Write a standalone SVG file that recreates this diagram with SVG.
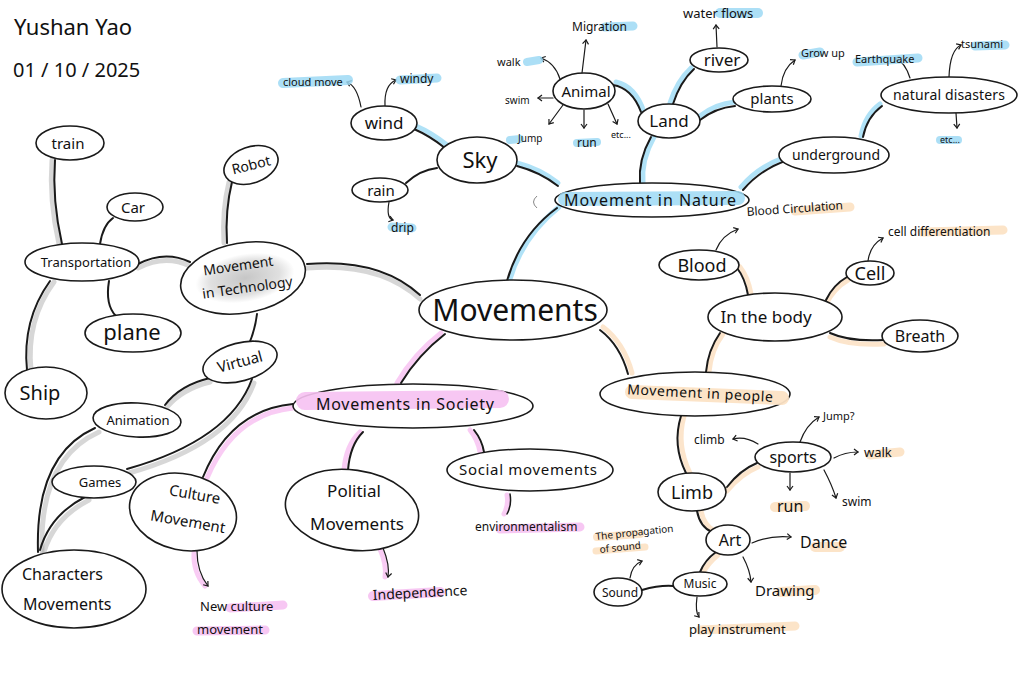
<svg xmlns="http://www.w3.org/2000/svg" width="1024" height="683" viewBox="0 0 1024 683">
<style>
.n{fill:#fff;stroke:#1a1a1a;stroke-width:1.6}
.t{font-family:"Noto Sans","Liberation Sans",sans-serif;fill:#111;text-anchor:middle}
.s{font-family:"Noto Sans","Liberation Sans",sans-serif;fill:#111}
.k{fill:none;stroke:#1a1a1a;stroke-width:2;stroke-linecap:round}
.a{fill:none;stroke:#1a1a1a;stroke-width:1.2;stroke-linecap:round;marker-end:url(#ah)}
.hb{fill:none;stroke:#8fd6f4;stroke-width:5;stroke-linecap:round;opacity:.7}
.ho{fill:none;stroke:#fbe1c3;stroke-width:5;stroke-linecap:round;opacity:.85}
.hp{fill:none;stroke:#f6b6f0;stroke-width:5;stroke-linecap:round;opacity:.7}
.hg{fill:none;stroke:#9a9a9a;stroke-width:5;stroke-linecap:round;opacity:.4}
.mb{stroke:#9edaf5;stroke-linecap:round;opacity:.85}
.mo{stroke:#fce3c6;stroke-linecap:round;opacity:.95}
.mp{stroke:#f7c2f2;stroke-linecap:round;opacity:.9}
</style>
<defs>
<marker id="ah" markerWidth="8" markerHeight="8" refX="0" refY="0" viewBox="-6 -4 8 8" orient="auto" markerUnits="userSpaceOnUse">
<path d="M-4,-3 L0,0 L-4,3" fill="none" stroke="#1a1a1a" stroke-width="1.2"/>
</marker>
<radialGradient id="gt" cx="0.5" cy="0.5" r="0.5">
<stop offset="0" stop-color="#b8b8b8"/>
<stop offset="0.7" stop-color="#d8d8d8"/>
<stop offset="1" stop-color="#ffffff"/>
</radialGradient>
</defs>

<g id="title">
<text class="s" x="14" y="35" font-size="22">Yushan Yao</text>
<text class="s" x="13" y="77" font-size="20">01 / 10 / 2025</text>
</g>

<g id="connectors">
<path class="hb" d="M510,279 Q523,236 559,207"/>
<path class="hb" d="M558,183 Q540,169 517,163"/>
<path class="hb" d="M643,183 Q641,160 654,137"/>
<path class="hb" d="M741,187 Q758,167 783,158"/>
<path class="hb" d="M447,145 Q432,133 416,126"/>
<path class="hb" d="M644,112 Q635,86 616,82"/>
<path class="hb" d="M670,103 Q677,81 691,68"/>
<path class="hb" d="M700,116 Q715,104 735,102"/>
<path class="hb" d="M861,136 Q865,115 880,104"/>
<path class="ho" d="M603,327 Q624,343 632,373"/>
<path class="ho" d="M709,372 Q711,350 723,334"/>
<path class="ho" d="M684,416 Q676,445 690,473"/>
<path class="ho" d="M740,267 Q748,277 751,294"/>
<path class="ho" d="M826,304 Q834,288 848,280"/>
<path class="ho" d="M830,337 Q850,346 884,344"/>
<path class="ho" d="M727,491 Q741,474 758,467"/>
<path class="ho" d="M701,511 Q704,526 715,531"/>
<path class="ho" d="M718,555 Q708,563 703,573"/>
<path class="hp" d="M441,333 Q414,354 397,383"/>
<path class="hp" d="M293,408 Q234,414 207,478"/>
<path class="hp" d="M360,432 Q346,445 344,470"/>
<path class="hp" d="M470,430 Q478,440 480,452"/>
<path class="hp" d="M194,553 Q193,572 205,586"/>
<path class="hp" d="M380,549 Q387,565 385,577"/>
<path class="hp" d="M507,495 Q509,505 504,514"/>
<path class="hg" d="M420,299 Q380,262 307,268"/>
<path class="hg" d="M190,266 Q165,254 138,268"/>
<path class="hg" d="M224,243 Q222,210 229,182"/>
<path class="hg" d="M59,244 Q49,200 52,160"/>
<path class="hg" d="M54,282 Q26,320 31,370"/>
<path class="hg" d="M210,382 Q182,389 167,407"/>
<path class="hg" d="M254,383 Q232,444 129,473"/>
<path class="hg" d="M89,500 Q54,518 44,552"/>
<path class="hg" d="M99,432 Q39,459 42,552"/>
<path class="k" d="M507,281 Q520,235 557,208"/>
<path class="k" d="M558,186 Q540,172 517,166"/>
<path class="k" d="M640,183 Q638,160 651,137"/>
<path class="k" d="M743,190 Q760,170 785,161"/>
<path class="k" d="M445,148 Q430,136 414,129"/>
<path class="k" d="M437,168 Q420,170 406,183"/>
<path class="k" d="M641,112 Q632,88 613,85"/>
<path class="k" d="M673,104 Q680,82 694,69"/>
<path class="k" d="M700,120 Q715,108 735,106"/>
<path class="k" d="M863,137 Q867,117 882,106"/>
<path class="k" d="M600,330 Q620,345 628,374"/>
<path class="k" d="M706,372 Q708,350 720,333"/>
<path class="k" d="M681,416 Q672,445 686,473"/>
<path class="k" d="M737,268 Q745,278 748,295"/>
<path class="k" d="M826,300 Q833,285 847,277"/>
<path class="k" d="M830,333 Q850,342 884,340"/>
<path class="k" d="M727,487 Q740,470 757,463"/>
<path class="k" d="M697,511 Q700,527 712,532"/>
<path class="k" d="M716,552 Q705,560 700,572"/>
<path class="k" d="M673,586 Q660,585 642,590"/>
<path class="k" d="M445,334 Q418,355 401,383"/>
<path class="k" d="M293,404 Q230,410 203,477"/>
<path class="k" d="M363,432 Q350,445 348,470"/>
<path class="k" d="M474,430 Q482,440 484,452"/>
<path class="k" d="M420,295 Q380,258 307,264"/>
<path class="k" d="M190,262 Q165,250 138,264"/>
<path class="k" d="M227,243 Q225,210 232,182"/>
<path class="k" d="M257,314 Q255,330 249,344"/>
<path class="k" d="M62,244 Q52,200 55,160"/>
<path class="k" d="M100,244 Q103,225 113,218"/>
<path class="k" d="M109,281 Q105,305 116,316"/>
<path class="k" d="M50,281 Q22,320 27,370"/>
<path class="k" d="M210,378 Q180,385 165,405"/>
<path class="k" d="M252,379 Q230,440 127,469"/>
<path class="k" d="M85,497 Q50,515 40,550"/>
<path class="k" d="M95,428 Q35,455 38,552"/>
<path class="a" d="M361,107 Q357,86 347,82"/>
<path class="a" d="M385,106 Q384,85 396,80"/>
<path class="a" d="M389,202 Q386,218 393,220"/>
<path class="a" d="M582,73 L586,40"/>
<path class="a" d="M560,79 Q555,63 541,58"/>
<path class="a" d="M553,98 L538,98"/>
<path class="a" d="M563,105 L549,124"/>
<path class="a" d="M584,110 L584,128"/>
<path class="a" d="M608,104 L617,124"/>
<path class="a" d="M717,47 L716,25"/>
<path class="a" d="M781,86 Q783,68 795,60"/>
<path class="a" d="M910,78 Q905,62 895,58"/>
<path class="a" d="M949,77 Q950,50 961,45"/>
<path class="a" d="M956,113 L957,128"/>
<path class="a" d="M716,250 Q722,235 738,229"/>
<path class="a" d="M868,261 Q870,245 883,238"/>
<path class="a" d="M758,444 Q745,436 733,439"/>
<path class="a" d="M800,442 Q806,425 819,417"/>
<path class="a" d="M834,458 Q845,452 858,452"/>
<path class="a" d="M790,473 L790,490"/>
<path class="a" d="M824,470 Q832,485 836,498"/>
<path class="a" d="M752,543 Q770,535 791,537"/>
<path class="a" d="M743,557 Q750,570 751,582"/>
<path class="a" d="M697,597 Q695,612 699,617"/>
<path class="a" d="M630,578 Q632,565 642,561"/>
<path class="a" d="M197,551 Q197,572 208,586"/>
<path class="a" d="M383,548 Q390,565 388,577"/>
<path class="k" style="stroke-width:1.5" d="M510,494 Q512,505 507,514"/>
</g>

<g id="labels-highlights">
<path class="mb" stroke-width="10" d="M283,83 L348,80"/>
<path class="mb" stroke-width="9" d="M400,80 L437,78"/>
<path class="mb" stroke-width="9" d="M392,227 L412,228"/>
<path class="mb" stroke-width="9" d="M605,27 L633,26"/>
<path class="mb" stroke-width="8" d="M527,62 L539,60"/>
<path class="mb" stroke-width="8" d="M577,143 L597,142"/>
<path class="mb" stroke-width="8" d="M510,140 L520,139"/>
<path class="mb" stroke-width="10" d="M720,13 L758,13"/>
<path class="mb" stroke-width="9" d="M803,55 L820,52"/>
<path class="mb" stroke-width="9" d="M857,62 L918,58"/>
<path class="mb" stroke-width="9" d="M975,46 L1005,45"/>
<path class="mb" stroke-width="8" d="M940,140 L958,140"/>
<path class="mo" stroke-width="9" d="M795,211 L850,207"/>
<path class="mo" stroke-width="9" d="M922,232 L1003,230"/>
<path class="mo" stroke-width="9" d="M870,455 L900,452"/>
<path class="mo" stroke-width="10" d="M775,507 L805,506"/>
<path class="mo" stroke-width="10" d="M815,547 L840,547"/>
<path class="mo" stroke-width="10" d="M780,592 L815,590"/>
<path class="mo" stroke-width="9" d="M700,630 L795,626"/>
<path class="mo" stroke-width="8" d="M597,537 L640,534"/>
<path class="mo" stroke-width="7" d="M596,551 L645,547"/>
<path class="mp" stroke-width="9" d="M230,608 L283,605"/>
<path class="mp" stroke-width="9" d="M197,631 L265,630"/>
<path class="mp" stroke-width="10" d="M373,596 L440,592"/>
<path class="mp" stroke-width="9" d="M500,529 L580,527"/>
</g>

<g id="n-movements"><ellipse class="n" cx="513" cy="310" rx="94" ry="30"/><text class="t" x="515" y="321" font-size="30">Movements</text></g>

<g id="n-nature"><ellipse class="n" cx="652" cy="200" rx="97" ry="17"/><path class="mb" stroke-width="14" d="M565,199 L738,198"/><path d="M537,196 Q530,202 537,208" fill="none" stroke="#888" stroke-width="1"/><text class="t" x="650" y="206" font-size="16" textLength="172" lengthAdjust="spacing">Movement in Nature</text></g>
<g id="n-sky"><ellipse class="n" cx="477" cy="160" rx="40" ry="23"/><text class="t" x="480" y="168" font-size="22">Sky</text></g>
<g id="n-wind"><ellipse class="n" cx="384" cy="123" rx="33" ry="17"/><text class="t" x="384" y="129" font-size="17">wind</text></g>
<g id="n-rain"><ellipse class="n" cx="380" cy="190" rx="28" ry="12"/><text class="t" x="381" y="196" font-size="15">rain</text></g>
<g id="n-animal"><ellipse class="n" cx="584" cy="91" rx="31" ry="18"/><text class="t" x="586" y="97" font-size="15">Animal</text></g>
<g id="n-land"><ellipse class="n" cx="669" cy="121" rx="31" ry="17"/><text class="t" x="669" y="127" font-size="17">Land</text></g>
<g id="n-river"><ellipse class="n" cx="719" cy="60" rx="29" ry="12"/><text class="t" x="722" y="66" font-size="17">river</text></g>
<g id="n-plants"><ellipse class="n" cx="772" cy="99" rx="39" ry="13"/><text class="t" x="772" y="104" font-size="15">plants</text></g>
<g id="n-natdis"><ellipse class="n" cx="949" cy="95" rx="68" ry="18"/><text class="t" x="949" y="100" font-size="14" textLength="112" lengthAdjust="spacing">natural disasters</text></g>
<g id="n-underground"><ellipse class="n" cx="834" cy="155" rx="55" ry="18"/><text class="t" x="836" y="160" font-size="15" textLength="88" lengthAdjust="spacingAndGlyphs">underground</text></g>

<g id="n-people"><ellipse class="n" cx="695" cy="394" rx="95" ry="22"/><path class="mo" stroke-width="14" d="M632,392 L782,398"/><text class="t" x="700" y="398" font-size="14" textLength="146" lengthAdjust="spacing" transform="rotate(3 700 394)">Movement in people</text></g>
<g id="n-body"><ellipse class="n" cx="775" cy="317" rx="67" ry="24"/><text class="t" x="766" y="323" font-size="17">In the body</text></g>
<g id="n-blood"><ellipse class="n" cx="699" cy="265" rx="40" ry="15"/><text class="t" x="702" y="272" font-size="18">Blood</text></g>
<g id="n-cell"><ellipse class="n" cx="870" cy="273" rx="24" ry="12"/><text class="t" x="870" y="280" font-size="18">Cell</text></g>
<g id="n-breath"><ellipse class="n" cx="920" cy="336" rx="38" ry="16"/><text class="t" x="920" y="342" font-size="16">Breath</text></g>
<g id="n-limb"><ellipse class="n" cx="692" cy="492" rx="34" ry="19"/><text class="t" x="692" y="499" font-size="18">Limb</text></g>
<g id="n-sports"><ellipse class="n" cx="793" cy="457" rx="38" ry="15"/><text class="t" x="793" y="463" font-size="16">sports</text></g>
<g id="n-art"><ellipse class="n" cx="728" cy="540" rx="22" ry="15"/><text class="t" x="730" y="546" font-size="16">Art</text></g>
<g id="n-music"><ellipse class="n" cx="700" cy="584" rx="27" ry="12"/><text class="t" x="700" y="588" font-size="12">Music</text></g>
<g id="n-sound"><ellipse class="n" cx="618" cy="592" rx="24" ry="14"/><text class="t" x="620" y="597" font-size="12">Sound</text></g>

<g id="n-society"><ellipse class="n" cx="413" cy="406" rx="120" ry="22"/><path class="mp" stroke-width="18" d="M305,401 L500,399"/><text class="t" x="405" y="410" font-size="16" textLength="178" lengthAdjust="spacing">Movements in Society</text></g>
<g id="n-social"><ellipse class="n" cx="530" cy="470" rx="83" ry="21"/><text class="t" x="528" y="475" font-size="15" textLength="138" lengthAdjust="spacing">Social movements</text></g>
<g id="n-politial"><ellipse class="n" cx="352" cy="510" rx="67" ry="40" transform="rotate(8 352 510)"/><text class="t" x="354" y="497" font-size="17">Politial</text><text class="t" x="357" y="530" font-size="17">Movements</text></g>
<g id="n-culture"><ellipse class="n" cx="183" cy="512" rx="54" ry="38" transform="rotate(12 183 512)"/><g transform="rotate(10 190 510)"><text class="t" x="192" y="499" font-size="15">Culture</text><text class="t" x="190" y="527" font-size="15">Movement</text></g></g>
<g id="n-characters"><ellipse class="n" cx="74" cy="589" rx="72" ry="39"/><text class="s" x="22" y="580" font-size="16">Characters</text><text class="s" x="23" y="610" font-size="16">Movements</text></g>

<g id="n-tech"><ellipse class="n" cx="243" cy="278" rx="63" ry="35" transform="rotate(-10 243 278)"/><ellipse cx="245" cy="278" rx="50" ry="24" fill="url(#gt)" opacity="0.8" transform="rotate(-10 245 278)"/><g transform="rotate(-8 243 278)"><text class="t" x="240" y="270" font-size="14">Movement</text><text class="t" x="246" y="293" font-size="14">in Technology</text></g></g>
<g id="n-transport"><ellipse class="n" cx="82" cy="262" rx="57" ry="19"/><text class="t" x="86" y="267" font-size="13">Transportation</text></g>
<g id="n-train"><ellipse class="n" cx="70" cy="143" rx="34" ry="17"/><text class="t" x="68" y="149" font-size="15">train</text></g>
<g id="n-car"><ellipse class="n" cx="135" cy="207" rx="28" ry="14"/><text class="t" x="133" y="213" font-size="15">Car</text></g>
<g id="n-plane"><ellipse class="n" cx="133" cy="333" rx="48" ry="19"/><text class="t" x="132" y="340" font-size="22">plane</text></g>
<g id="n-ship"><ellipse class="n" cx="46" cy="393" rx="41" ry="26"/><text class="t" x="40" y="400" font-size="20">Ship</text></g>
<g id="n-robot"><ellipse class="n" cx="251" cy="165" rx="28" ry="18" transform="rotate(-20 251 165)"/><text class="t" x="251" y="170" font-size="14" transform="rotate(-14 251 165)">Robot</text></g>
<g id="n-virtual"><ellipse class="n" cx="240" cy="362" rx="38" ry="19" transform="rotate(-15 240 362)"/><text class="t" x="240" y="367" font-size="15" transform="rotate(-15 240 362)">Virtual</text></g>
<g id="n-animation"><ellipse class="n" cx="137" cy="420" rx="44" ry="17" transform="rotate(3 137 420)"/><text class="t" x="138" y="425" font-size="13">Animation</text></g>
<g id="n-games"><ellipse class="n" cx="94" cy="482" rx="42" ry="16"/><text class="t" x="100" y="487" font-size="13">Games</text></g>

<g id="leaves">
<text class="s" x="283" y="86" font-size="11">cloud move</text>
<text class="s" x="400" y="83" font-size="12">windy</text>
<text class="s" x="391" y="232" font-size="12">drip</text>
<text class="s" x="572" y="31" font-size="12">Migration</text>
<text class="s" x="497" y="66" font-size="11">walk</text>
<text class="s" x="505" y="104" font-size="10">swim</text>
<text class="s" x="518" y="142" font-size="10">Jump</text>
<text class="s" x="577" y="147" font-size="12">run</text>
<text class="s" x="611" y="138" font-size="9">etc...</text>
<text class="s" x="683" y="18" font-size="13">water flows</text>
<text class="s" x="801" y="57" font-size="11">Grow up</text>
<text class="s" x="855" y="63" font-size="11">Earthquake</text>
<text class="s" x="961" y="48" font-size="11">tsunami</text>
<text class="s" x="940" y="143" font-size="9">etc...</text>
<text class="s" x="747" y="216" font-size="12" transform="rotate(-4 747 216)">Blood Circulation</text>
<text class="s" x="888" y="236" font-size="12">cell differentiation</text>
<text class="s" x="694" y="444" font-size="12">climb</text>
<text class="s" x="823" y="420" font-size="11">Jump?</text>
<text class="s" x="864" y="457" font-size="13">walk</text>
<text class="s" x="777" y="512" font-size="16">run</text>
<text class="s" x="842" y="506" font-size="12">swim</text>
<text class="s" x="800" y="548" font-size="16">Dance</text>
<text class="s" x="755" y="596" font-size="15">Drawing</text>
<text class="s" x="689" y="634" font-size="13">play instrument</text>
<text class="s" x="596" y="540" font-size="10" transform="rotate(-6 596 540)">The propagation</text>
<text class="s" x="600" y="553" font-size="10" transform="rotate(-6 600 553)">of sound</text>
<text class="s" x="200" y="611" font-size="13">New culture</text>
<text class="s" x="197" y="634" font-size="13">movement</text>
<text class="s" x="373" y="600" font-size="14" transform="rotate(-3 373 600)">Independence</text>
<text class="s" x="475" y="531" font-size="12">environmentalism</text>
</g>
</svg>
